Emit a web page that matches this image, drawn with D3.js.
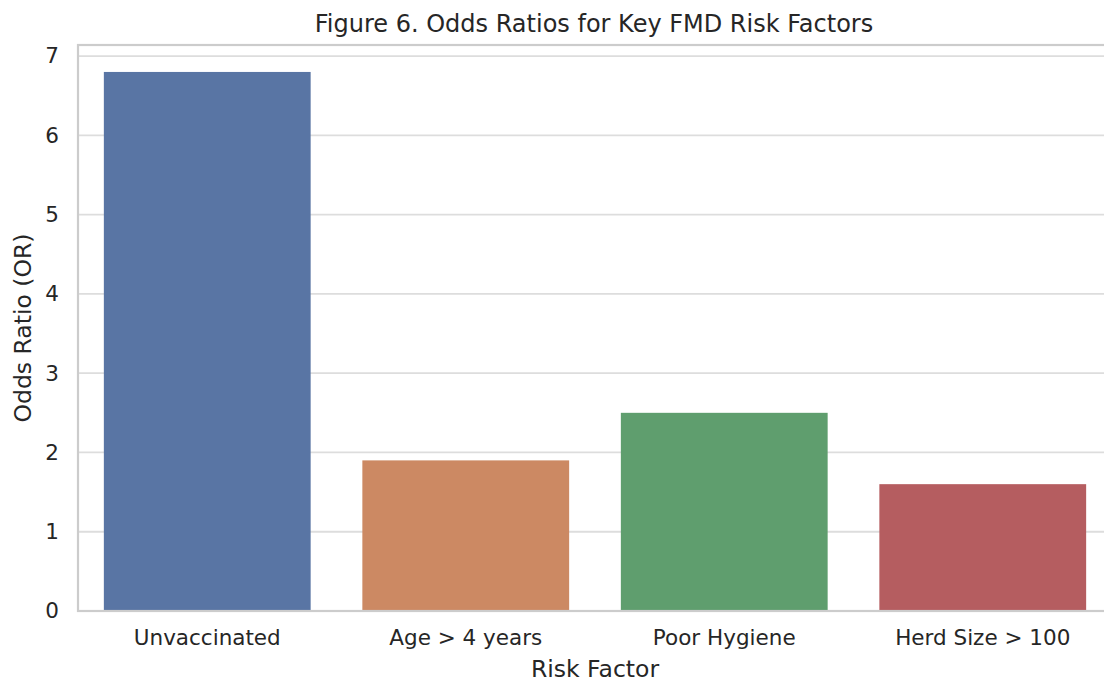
<!DOCTYPE html>
<html>
<head>
<meta charset="utf-8">
<script src="https://cdn.jsdelivr.net/npm/d3@7"></script>
<style>
  html, body { margin: 0; padding: 0; background: #fff; }
  svg { display: block; font-family: "DejaVu Sans", sans-serif; }
</style>
</head>
<body>
<div id="chart"></div>
<script>
// data
const categories = ['Unvaccinated', 'Age > 4 years', 'Poor Hygiene', 'Herd Size > 100'];
const oddsRatios = [6.8, 1.9, 2.5, 1.6];
const yTicks = [0, 1, 2, 3, 4, 5, 6, 7];
const barColors = ['#5975a4', '#cc8963', '#5f9e6e', '#b55d60'];

const W = 1104, H = 684;
const margin = { top: 45, right: -8, bottom: 73, left: 78 };
const width = W - margin.left - margin.right,
    height = H - margin.top - margin.bottom;

const svg = d3.select('#chart').append('svg')
    .attr('width', W).attr('height', H);

const g = svg.append('g')
    .attr('transform', `translate(${margin.left},${margin.top})`);

// scales (seaborn style: bars width 0.8 of a category slot, y max = 1.05 * max)
const x = d3.scaleBand().domain(categories).range([0, width]).paddingInner(0.2).paddingOuter(0.1);
const y = d3.scaleLinear().domain([0, d3.max(oddsRatios) * 1.05]).range([height, 0]);

const textColor = '#262626';

// grid
g.append('g').selectAll('line')
    .data(yTicks)
    .enter().append('line')
    .attr('x1', 0).attr('x2', width)
    .attr('y1', d => y(d)).attr('y2', d => y(d))
    .attr('stroke', '#dddddd')
    .attr('stroke-width', 1.8);

// bars
g.selectAll('rect.bar')
    .data(categories)
    .enter().append('rect')
    .attr('class', 'bar')
    .attr('x', d => x(d))
    .attr('width', x.bandwidth())
    .attr('y', (d, i) => y(oddsRatios[i]))
    .attr('height', (d, i) => y(0) - y(oddsRatios[i]))
    .attr('fill', (d, i) => barColors[i]);

// spines
g.append('rect')
    .attr('x', 0).attr('y', 0)
    .attr('width', width).attr('height', height)
    .attr('fill', 'none')
    .attr('stroke', '#cccccc')
    .attr('stroke-width', 2.2);

// y axis
const yAxis = g.append('g').call(d3.axisLeft(y).tickValues(yTicks).tickSize(0).tickPadding(19));
yAxis.select('.domain').remove();
yAxis.selectAll('text')
    .attr('fill', textColor)
    .style('font-size', '21.5px')
    .style('font-family', '"DejaVu Sans", sans-serif');

// x axis
const xAxis = g.append('g')
    .attr('transform', `translate(0,${height})`)
    .call(d3.axisBottom(x).tickSize(0).tickPadding(19));
xAxis.select('.domain').remove();
xAxis.selectAll('text')
    .attr('fill', textColor)
    .style('font-size', '21.5px')
    .style('font-family', '"DejaVu Sans", sans-serif');

// axis labels
svg.append('text')
    .attr('x', margin.left + x('Age > 4 years') + x.bandwidth() + x.step() * 0.1)
    .attr('y', 677)
    .attr('text-anchor', 'middle')
    .attr('fill', textColor)
    .style('font-size', '23.5px')
    .text('Risk Factor');

svg.append('text')
    .attr('transform', `translate(31,${margin.top + height / 2}) rotate(-90)`)
    .attr('text-anchor', 'middle')
    .attr('fill', textColor)
    .style('font-size', '23.5px')
    .text('Odds Ratio (OR)');

// title
svg.append('text')
    .attr('x', 594)
    .attr('y', 32)
    .attr('text-anchor', 'middle')
    .attr('fill', textColor)
    .style('font-size', '24px')
    .text('Figure 6. Odds Ratios for Key FMD Risk Factors');
</script>
</body>
</html>
